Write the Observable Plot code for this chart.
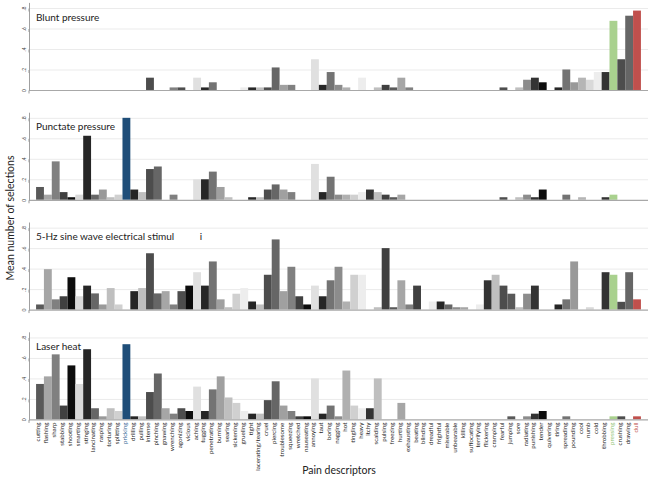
<!DOCTYPE html>
<html>
<head>
<meta charset="utf-8">
<script src="https://cdn.jsdelivr.net/npm/d3@7"></script>
<script src="https://cdn.jsdelivr.net/npm/@observablehq/plot@0.6"></script>
<style>
  html, body { margin: 0; padding: 0; background: #fff; }
  #wrap { position: relative; width: 652px; height: 480px; font-family: Lato, "Open Sans", sans-serif; }
  #ylab { position: absolute; left: 10px; top: 218px; transform: translate(-50%, -50%) rotate(-90deg); white-space: nowrap; font-size: 10.5px; color: #222; }
  #xlab { position: absolute; left: 339px; top: 470px; transform: translate(-50%, -50%); white-space: nowrap; font-size: 10.5px; color: #222; }
</style>
</head>
<body>
<div id="wrap">
  <div id="chart"></div>
  <div id="ylab">Mean number of selections</div>
  <div id="xlab">Pain descriptors</div>
</div>
<script>
const descriptors = ["cutting","flashing","sharp","stabbing","shooting","smarting","stinging","lancinating","rasping","torturing",
  "splitting","pricking","drilling","pulling","intense","pinching","gnawing","wrenching","agonizing","vicious",
  "aching","tugging","penetrating","burning","searing","sickening","grueling","tight","lacerating/tearing","cruel",
  "piercing","troublesome","squeezing","wretched","nauseating","annoying","taut","boring","nagging","hot",
  "tingling","heavy","itchy","scalding","pulsing","freezing","hurting","exhausting","beating","blinding",
  "dreadful","frightful","miserable","unbearable","killing","suffocating","terrifying","flickering","cramping","fearful",
  "jumping","sore","radiating","punishing","tender","quivering","tiring","spreading","pounding","cool",
  "numb","cold","throbbing","pressing","crushing","drawing","dull"];

const panels = ["Blunt pressure", "Punctate pressure", "5-Hz sine wave electrical stimul\u00a0\u00a0\u00a0\u00a0\u00a0\u00a0\u00a0\u00a0\u00a0\u00a0i", "Laser heat"];

const blunt = [
  0,0,0,0,0,0,0,0,0,0,
  0,0,0,0,0.12,0,0,0.025,0.025,0,
  0.12,0.025,0.075,0,0,0,0.025,0.025,0.025,0.025,
  0.22,0.05,0.05,0,0,0.3,0.05,0.175,0.05,0.025,
  0,0.12,0,0.025,0.05,0.025,0.12,0.025,0,0,
  0,0,0,0,0,0,0,0,0,0.025,
  0,0.025,0.1,0.12,0.075,0,0.025,0.2,0.075,0.12,
  0.1,0.175,0.175,0.675,0.3,0.725,0.775];

const punctate = [
  0.125,0.05,0.375,0.075,0.025,0.05,0.625,0.05,0.1,0.025,
  0.05,0.8,0.1,0.075,0.3,0.325,0,0.05,0,0,
  0.2,0.2,0.275,0.125,0.025,0,0,0.025,0.025,0.1,
  0.15,0.1,0.075,0,0,0.35,0.075,0.225,0.05,0.05,
  0.05,0.075,0.1,0.075,0.05,0.025,0.05,0,0,0,
  0,0,0,0,0,0,0,0,0,0.025,
  0,0.025,0.05,0.025,0.1,0,0,0.05,0,0.025,
  0,0,0.025,0.05,0,0,0];

const electrical = [
  0.05,0.395,0.1,0.13,0.316,0.13,0.234,0.158,0.05,0.21,
  0.05,0,0.18,0.21,0.55,0.158,0.18,0.05,0.18,0.234,
  0.365,0.234,0.47,0.1,0.023,0.155,0.21,0.079,0.05,0.34,
  0.685,0.18,0.418,0.13,0.05,0.234,0.13,0.286,0.418,0.079,
  0.34,0.34,0,0.023,0.6,0.023,0.286,0.05,0.234,0,
  0.079,0.079,0.05,0.023,0.023,0,0.05,0.286,0.34,0.234,
  0.155,0.023,0.155,0.234,0,0,0.05,0.1,0.47,0,
  0.023,0,0.365,0.34,0.076,0.365,0.1];

const laser = [
  0.346,0.42,0.635,0.135,0.527,0.346,0.685,0.109,0.03,0.109,
  0.082,0.734,0.03,0.03,0.267,0.448,0.109,0.056,0.109,0.082,
  0.32,0.082,0.293,0.42,0.214,0.161,0.082,0.056,0.056,0.188,
  0.372,0.135,0.082,0.03,0.03,0.4,0.056,0.135,0.03,0.477,
  0.135,0.109,0.109,0.4,0,0,0.161,0,0,0,
  0,0,0,0,0,0,0,0,0,0,
  0.03,0,0.03,0.056,0.082,0,0,0.03,0,0,
  0,0,0,0.03,0.03,0,0.03];

const barColors = [
  "#595959","#a6a6a6","#808080","#404040","#0d0d0d","#d9d9d9","#262626","#666666","#999999","#bfbfbf",
  "#d0d0d0","#1f4e79","#262626","#bfbfbf","#4d4d4d","#666666","#a6a6a6","#808080","#4d4d4d","#0d0d0d",
  "#e0e0e0","#262626","#737373","#a0a0a0","#bfbfbf","#d0d0d0","#ededed","#262626","#bfbfbf","#4d4d4d",
  "#666666","#a0a0a0","#808080","#404040","#0d0d0d","#e0e0e0","#262626","#737373","#8c8c8c","#b0b0b0",
  "#d0d0d0","#ededed","#333333","#bfbfbf","#404040","#595959","#a6a6a6","#808080","#404040","#bfbfbf",
  "#ededed","#262626","#666666","#8c8c8c","#a6a6a6","#cccccc","#ededed","#333333","#bfbfbf","#4d4d4d",
  "#595959","#bfbfbf","#8c8c8c","#333333","#0d0d0d","#595959","#262626","#737373","#999999","#b5b5b5",
  "#d9d9d9","#ededed","#333333","#a9d18e","#4d4d4d","#666666","#c0504d"];

const labelHighlight = {pricking: "#2e6391", pressing: "#8dc26f", dull: "#c0504d"};

const yTicks = [0, 0.2, 0.4, 0.6, 0.8];

const series = [blunt, punctate, electrical, laser];
const colorOf = new Map(descriptors.map((d, i) => [d, barColors[i]]));
const rows = panels.flatMap((p, k) => descriptors.map((d, i) => ({panel: p, descriptor: d, value: series[k][i]})));
const bottomPanel = panels[3];

const chart = Plot.plot({
  width: 652,
  height: 480,
  marginLeft: 29,
  marginRight: 4,
  marginTop: 2.9,
  marginBottom: 60.6,
  style: {fontFamily: "Lato, 'Open Sans', sans-serif", background: "#fff"},
  x: {domain: descriptors, paddingInner: 0, paddingOuter: 0.9, round: false, axis: null},
  y: {domain: [0, 0.85]},
  fy: {domain: panels, paddingInner: 0.207, paddingOuter: 0, round: false, axis: null},
  marks: [
    Plot.gridY(yTicks.slice(1), {stroke: "#ebebeb", strokeOpacity: 1}),
    Plot.barY(rows, {x: "descriptor", y: "value", fy: "panel", fill: d => colorOf.get(d.descriptor), inset: 0}),
    Plot.ruleY([0], {stroke: "#a8a8a8", strokeWidth: 1.2}),
    Plot.frame({anchor: "left", stroke: "#a0a0a0"}),
    Plot.axisY({ticks: yTicks, tickSize: 3, tickPadding: 1, rotate: -90, textAnchor: "middle", lineAnchor: "bottom",
      fontSize: 5, stroke: "#999", fill: "#444", label: null,
      tickFormat: d => d === 0 ? "0" : d3.format(".1f")(d).replace(/^0/, "")}),
    Plot.text(panels, {fy: d => d, text: d => d, frameAnchor: "top-left", lineAnchor: "top", dx: 6.5, dy: 10,
      fontSize: 10, fill: "#222"}),
    Plot.text(descriptors, {x: d => d, fy: () => bottomPanel, frameAnchor: "bottom", rotate: -90, textAnchor: "end",
      dy: 2.7, fontSize: 6.2, fill: d => labelHighlight[d] || "#222"})
  ]
});

document.getElementById("chart").appendChild(chart);
</script>
</body>
</html>
